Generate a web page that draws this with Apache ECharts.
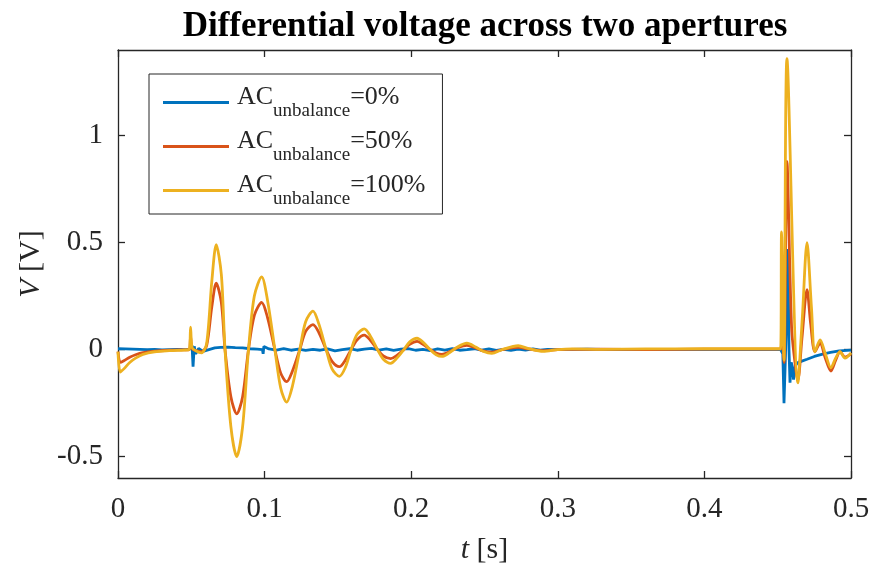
<!DOCTYPE html>
<html>
<head>
<meta charset="utf-8">
<script src="https://cdn.jsdelivr.net/npm/echarts@6/dist/echarts.min.js"></script>
<style>
  html, body { margin: 0; padding: 0; background: #fff; }
  #chart { width: 873px; height: 567px; }
</style>
</head>
<body>
<div id="chart"></div>
<script>
// legend labels (AC_unbalance = ...)
var seriesNames = ['0%', '50%', '100%'];
var seriesColors = ['#0072BD', '#D95319', '#EDB120'];
var yTicks = [-0.5, 0, 0.5, 1];

// [t (s), V (V)]
var blueData = [
  [0, 0.004], [0.005, 0.003], [0.01, 0.002], [0.015, 0.001], [0.02, 0.0], [0.025, 0.001],
  [0.03, -0.001], [0.035, 0.0], [0.04, 0.001], [0.045, 0.0], [0.049, 0.002], [0.0505, 0.02],
  [0.0512, -0.08], [0.052, 0.015], [0.053, -0.02], [0.055, 0.005], [0.058, -0.008], [0.062, 0.0],
  [0.066, 0.008], [0.07, 0.01], [0.075, 0.012], [0.08, 0.009], [0.085, 0.008], [0.09, 0.004],
  [0.095, 0.002], [0.0985, 0.0], [0.099, -0.02], [0.0995, 0.015], [0.103, 0.003], [0.108, -0.002],
  [0.113, 0.004], [0.118, -0.003], [0.123, 0.002], [0.128, -0.004], [0.133, 0.001], [0.138, -0.003],
  [0.143, 0.003], [0.148, -0.006], [0.153, 0.0], [0.158, 0.004], [0.163, -0.003], [0.168, 0.002],
  [0.173, 0.006], [0.178, -0.002], [0.183, 0.003], [0.188, -0.004], [0.193, 0.002], [0.198, 0.005],
  [0.203, -0.003], [0.208, 0.001], [0.213, -0.005], [0.218, 0.003], [0.223, -0.002], [0.228, 0.004],
  [0.233, -0.003], [0.238, 0.0], [0.243, 0.004], [0.248, -0.002], [0.253, 0.003], [0.258, -0.004],
  [0.263, 0.001], [0.268, -0.003], [0.273, 0.002], [0.278, -0.002], [0.283, 0.003], [0.288, -0.003],
  [0.293, 0.001], [0.3, 0.0], [0.32, 0.002], [0.34, 0.0], [0.36, 0.001], [0.38, 0.0], [0.4, 0.001],
  [0.42, 0.0], [0.44, 0.001], [0.452, 0.0], [0.4535, -0.02], [0.4543, -0.25], [0.4552, -0.05],
  [0.4562, 0.2], [0.457, 0.47], [0.4577, 0.0], [0.4584, -0.155], [0.4592, -0.06], [0.46, -0.08],
  [0.4608, -0.14], [0.4616, -0.09], [0.4625, -0.07], [0.464, -0.06], [0.466, -0.055], [0.47, -0.045],
  [0.475, -0.032], [0.48, -0.022], [0.486, -0.013], [0.492, -0.006], [0.5, -0.002]
];

var redData = [
  [0, -0.01], [0.0015, -0.06], [0.004, -0.052], [0.008, -0.036], [0.012, -0.024], [0.017, -0.014],
  [0.025, -0.007], [0.035, -0.003], [0.045, -0.001], [0.0485, 0.0], [0.0495, 0.06], [0.0505, 0.005],
  [0.053, -0.005], [0.057, -0.01], [0.0605, 0.02], [0.064, 0.2], [0.067, 0.31], [0.0705, 0.22],
  [0.073, 0.0], [0.077, -0.22], [0.081, -0.3], [0.085, -0.22], [0.089, 0.0], [0.093, 0.16],
  [0.098, 0.22], [0.102, 0.15], [0.107, 0.0], [0.111, -0.11], [0.115, -0.15], [0.119, -0.1],
  [0.124, 0.0], [0.128, 0.085], [0.133, 0.117], [0.137, 0.08], [0.142, 0.0], [0.146, -0.055],
  [0.151, -0.08], [0.155, -0.05], [0.159, 0.0], [0.163, 0.045], [0.168, 0.068], [0.172, 0.045],
  [0.177, 0.0], [0.181, -0.03], [0.186, -0.042], [0.19, -0.028], [0.195, 0.0], [0.199, 0.025],
  [0.204, 0.038], [0.208, 0.025], [0.213, 0.0], [0.217, -0.016], [0.221, -0.022], [0.226, -0.01],
  [0.231, 0.007], [0.238, 0.02], [0.244, 0.008], [0.249, -0.006], [0.255, -0.012], [0.262, 0.0],
  [0.273, 0.01], [0.28, 0.003], [0.29, -0.005], [0.3, 0.0], [0.33, 0.002], [0.36, 0.0], [0.4, 0.002],
  [0.44, 0.002], [0.452, 0.003], [0.4529, 0.07], [0.4543, -0.06], [0.4563, 0.88], [0.4595, 0.1],
  [0.4625, -0.1], [0.4638, -0.14], [0.4665, 0.05], [0.47, 0.28], [0.4725, 0.12], [0.4754, -0.01],
  [0.4789, 0.03], [0.4825, -0.04], [0.4863, -0.1], [0.4895, -0.05], [0.4925, -0.01], [0.4959, -0.035],
  [0.5, -0.02]
];

var yellowData = [
  [0, -0.01], [0.0015, -0.105], [0.004, -0.09], [0.008, -0.06], [0.012, -0.04], [0.017, -0.022],
  [0.025, -0.01], [0.035, -0.005], [0.045, -0.002], [0.0485, 0.0], [0.0495, 0.105], [0.0505, 0.01],
  [0.053, -0.005], [0.057, -0.015], [0.0605, 0.03], [0.064, 0.32], [0.067, 0.49], [0.0705, 0.35],
  [0.073, 0.0], [0.077, -0.36], [0.081, -0.5], [0.085, -0.36], [0.089, 0.0], [0.093, 0.25],
  [0.098, 0.34], [0.102, 0.23], [0.107, 0.0], [0.111, -0.18], [0.115, -0.245], [0.119, -0.17],
  [0.124, 0.0], [0.128, 0.13], [0.133, 0.18], [0.137, 0.12], [0.142, 0.0], [0.146, -0.09],
  [0.151, -0.125], [0.155, -0.085], [0.159, 0.0], [0.163, 0.07], [0.168, 0.097], [0.172, 0.065],
  [0.177, 0.0], [0.181, -0.045], [0.186, -0.064], [0.19, -0.042], [0.195, 0.0], [0.199, 0.036],
  [0.204, 0.053], [0.208, 0.035], [0.213, 0.0], [0.217, -0.024], [0.221, -0.032], [0.226, -0.015],
  [0.231, 0.01], [0.238, 0.03], [0.244, 0.012], [0.249, -0.008], [0.255, -0.018], [0.262, 0.0],
  [0.273, 0.018], [0.28, 0.005], [0.29, -0.008], [0.3, 0.0], [0.31, 0.003], [0.33, 0.001],
  [0.36, 0.003], [0.4, 0.004], [0.44, 0.004], [0.452, 0.004], [0.4526, 0.55], [0.4543, -0.05],
  [0.4563, 1.36], [0.4638, -0.155], [0.4668, 0.15], [0.47, 0.5], [0.473, 0.2], [0.4754, -0.01],
  [0.4789, 0.045], [0.4825, -0.02], [0.4863, -0.085], [0.4895, -0.04], [0.4925, -0.01],
  [0.4959, -0.04], [0.5, -0.015]
];

var font = 'Liberation Serif';
var axisColor = '#262626';

var chart = echarts.init(document.getElementById('chart'));

// 坐标轴公共样式
function mirrorAxis(base) {
  return Object.assign({
    axisLine: { show: true, onZero: false, lineStyle: { color: axisColor, width: 1.3 } },
    axisTick: { show: true, inside: true, length: 7, lineStyle: { color: axisColor, width: 1.3 } },
    splitLine: { show: false }
  }, base);
}

var option = {
  animation: false,
  backgroundColor: '#fff',
  title: {
    text: 'Differential voltage across two apertures',
    left: 480,
    top: 4,
    textAlign: 'center',
    textStyle: { fontFamily: font, fontWeight: 'bold', fontSize: 35, color: '#000' }
  },
  grid: { left: 118, right: 22, top: 50, bottom: 89, outerBoundsMode: 'none', containLabel: false },
  legend: {
    orient: 'vertical',
    left: 149,
    top: 74,
    padding: [10, 17, 5, 14],
    itemGap: 7,
    itemWidth: 66,
    itemHeight: 3,
    icon: 'rect',
    borderColor: axisColor,
    borderWidth: 1,
    borderRadius: 0,
    backgroundColor: '#fff',
    data: seriesNames,
    formatter: function (name) {
      return '{p|AC}{s|unbalance}{a|=' + name + '}';
    },
    textStyle: {
      fontFamily: font,
      color: axisColor,
      rich: {
        p: { fontFamily: font, fontSize: 26, lineHeight: 37, verticalAlign: 'top', color: axisColor, padding: [0, 0, 0, 3] },
        a: { fontFamily: font, fontSize: 26, lineHeight: 37, verticalAlign: 'top', color: axisColor },
        s: { fontFamily: font, fontSize: 19, lineHeight: 37, verticalAlign: 'bottom', color: axisColor }
      }
    }
  },
  xAxis: [
    mirrorAxis({
      type: 'value', position: 'bottom', min: 0, max: 0.5, interval: 0.1,
      name: '{i|t} [s]', nameLocation: 'middle', nameGap: 57,
      nameTextStyle: {
        fontFamily: font, fontSize: 30, color: axisColor,
        rich: {
          i: { fontFamily: font, fontSize: 30, fontStyle: 'italic', color: axisColor }
        }
      },
      axisLabel: { fontFamily: font, fontSize: 29, color: axisColor, margin: 17 }
    }),
    mirrorAxis({
      type: 'value', position: 'top', min: 0, max: 0.5, interval: 0.1,
      axisLabel: { show: false }
    })
  ],
  yAxis: [
    mirrorAxis({
      type: 'value', position: 'left', min: -0.6, max: 1.4,
      name: '{i|V} [V]', nameLocation: 'middle', nameGap: 62, nameRotate: 90,
      nameTextStyle: {
        fontFamily: font, fontSize: 30, color: axisColor,
        rich: {
          i: { fontFamily: font, fontSize: 30, fontStyle: 'italic', color: axisColor }
        }
      },
      axisTick: { show: true, inside: true, length: 7, customValues: yTicks, lineStyle: { color: axisColor, width: 1.3 } },
      axisLabel: { fontFamily: font, fontSize: 29, color: axisColor, margin: 15, customValues: yTicks }
    }),
    mirrorAxis({
      type: 'value', position: 'right', min: -0.6, max: 1.4,
      axisTick: { show: true, inside: true, length: 7, customValues: yTicks, lineStyle: { color: axisColor, width: 1.3 } },
      axisLabel: { show: false }
    })
  ],
  series: [
    { name: seriesNames[0], type: 'line', data: blueData, showSymbol: false, color: seriesColors[0],
      lineStyle: { width: 2.8, color: seriesColors[0] } },
    { name: seriesNames[1], type: 'line', data: redData, showSymbol: false, smooth: 0.3, color: seriesColors[1],
      lineStyle: { width: 2.8, color: seriesColors[1] } },
    { name: seriesNames[2], type: 'line', data: yellowData, showSymbol: false, smooth: 0.3, color: seriesColors[2],
      lineStyle: { width: 2.8, color: seriesColors[2] } }
  ]
};

chart.setOption(option);
</script>
</body>
</html>
